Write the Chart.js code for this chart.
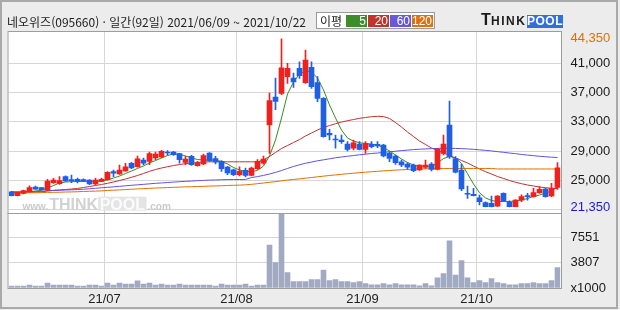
<!DOCTYPE html>
<html lang="ko">
<head>
<meta charset="utf-8">
<script src="https://cdn.jsdelivr.net/npm/chart.js@4.4.0/dist/chart.umd.min.js"></script>
<style>
  html, body { margin:0; padding:0; background:#ececec; }
  #wrap { position:relative; width:620px; height:310px; overflow:hidden; background:#ececec; font-family:'Noto Sans CJK KR','Noto Sans',sans-serif; }
  #frame { position:absolute; left:0; top:0; width:614px; height:305px; border:2px solid #a9a9a9; pointer-events:none; }
  #c { position:absolute; left:0; top:0; }
  .title { position:absolute; left:7px; top:14px; font-size:12px; line-height:15px; color:#222; white-space:nowrap; }
  .legend { position:absolute; left:316px; top:12px; width:117px; height:15px; border:1px solid #9a9a9a; background:#fff; }
  .legend .lbl { position:absolute; left:3px; top:0; font-size:12px; line-height:15px; color:#222; }
  .legend .ma { position:absolute; top:2px; width:21px; height:12px; color:#fff; font:12px/12px 'Liberation Sans',Arial,sans-serif; text-align:right; box-sizing:border-box; padding-right:1px; }
  .logo { position:absolute; top:13px; font-family:'Liberation Sans',Arial,sans-serif; font-weight:bold; color:#1c1c1c; white-space:nowrap; }
</style>
</head>
<body>
<div id="wrap">
  <canvas id="c" width="620" height="310"></canvas>
  <div class="title">네오위즈(095660) · 일간(92일) 2021/06/09 ~ 2021/10/22</div>
  <div class="legend">
    <span class="lbl">이평</span>
    <span class="ma" style="left:29px;background:#3e8c2a">5</span>
    <span class="ma" style="left:51px;background:#c0342a">20</span>
    <span class="ma" style="left:73px;background:#6658da">60</span>
    <span class="ma" style="left:95px;width:21px;background:#e0700f">120</span>
  </div>
  <div class="logo" style="left:481px;top:11px;font-size:16px;line-height:18px">T</div>
  <div class="logo" style="left:491px;top:14px;font-size:12px;line-height:15px;letter-spacing:1.5px">HINK</div>
  <div class="logo" style="left:527px;top:15px;width:36px;height:13px;background:#2f6fde;color:#fff;font-size:12px;line-height:13px;text-align:center;letter-spacing:0.5px">POOL</div>
  <div id="frame"></div>
</div>
<script>
// ---- data ----
const dates = [
  '21/06/09','21/06/10','21/06/11','21/06/14','21/06/15','21/06/16','21/06/17','21/06/18','21/06/21','21/06/22',
  '21/06/23','21/06/24','21/06/25','21/06/28','21/06/29','21/06/30',
  '21/07/01','21/07/02','21/07/05','21/07/06','21/07/07','21/07/08','21/07/09','21/07/12','21/07/13','21/07/14',
  '21/07/15','21/07/16','21/07/19','21/07/20','21/07/21','21/07/22','21/07/23','21/07/26','21/07/27','21/07/28',
  '21/07/29','21/07/30',
  '21/08/02','21/08/03','21/08/04','21/08/05','21/08/06','21/08/09','21/08/10','21/08/11','21/08/12','21/08/13',
  '21/08/17','21/08/18','21/08/19','21/08/20','21/08/23','21/08/24','21/08/25','21/08/26','21/08/27','21/08/30',
  '21/08/31',
  '21/09/01','21/09/02','21/09/03','21/09/06','21/09/07','21/09/08','21/09/09','21/09/10','21/09/13','21/09/14',
  '21/09/15','21/09/16','21/09/17','21/09/23','21/09/24','21/09/27','21/09/28','21/09/29','21/09/30',
  '21/10/01','21/10/05','21/10/06','21/10/07','21/10/08','21/10/12','21/10/13','21/10/14','21/10/15','21/10/18',
  '21/10/19','21/10/20','21/10/21','21/10/22'
];

const opens = [
  23440,22890,23220,23440,24080,23990,23670,24670,24550,25500,
  25040,25140,25040,25040,24500,24860,25100,26180,25860,26270,
  27330,26860,27780,27600,28050,28190,28870,28870,28640,27460,
  28280,27000,27230,28730,27960,27600,26820,26450,25770,26370,
  25680,26590,27360,32560,36390,36900,39170,38990,40320,38350,
  40450,38350,36210,31430,30650,30510,29960,29380,29960,29240,
  29920,29920,29830,28690,28320,27540,27230,27090,26410,26780,
  27230,26500,28690,32560,27960,26410,23220,23090,22620,21940,
  21850,21480,23220,22000,21400,22300,22850,22760,23310,23810,
  22850,24040
];
const highs = [
  23500,23400,23650,24260,24200,24050,25150,25270,25500,25600,
  25730,25320,25200,25100,25270,25300,26200,26400,27090,27330,
  27450,28320,28050,28870,28870,29100,29050,28950,28700,28280,
  28400,27600,28600,28800,28280,27700,26900,26550,26860,26680,
  26800,27820,28320,36940,38990,44350,41000,39670,41220,42820,
  41220,39170,36300,31970,31200,31200,30280,30510,30280,30280,
  30280,30280,29920,28910,28460,27780,27410,27230,27100,27770,
  27410,29380,31200,35850,28230,27230,24220,23900,22990,22070,
  22850,22900,23300,22210,22350,23000,23220,23910,24130,23910,
  24590,27410
];
const lows = [
  22850,22850,23150,23400,23750,23650,23600,24590,24450,24850,
  24670,24630,24850,24400,24360,24800,25050,25500,25800,26200,
  26600,26800,27100,27140,27820,28100,28450,28400,27360,27130,
  27050,26950,27150,27600,27230,26230,25770,25650,25590,25450,
  25600,26500,27200,28690,34650,36700,38260,37720,38950,38260,
  37580,35750,30900,30510,29380,30060,29010,29150,29150,28690,
  29420,29460,28190,27540,27190,26860,26500,26180,26350,26640,
  26270,26410,28460,28010,26000,23580,22540,22850,21620,21350,
  21350,21420,22100,21350,21380,22070,22300,22680,23220,22680,
  22760,23770
];
const closes = [
  22890,23360,23580,23990,23800,23710,24900,25040,24950,24900,
  24950,24900,24960,24500,25040,25140,26100,25960,26410,26860,
  26680,27950,27330,28640,28600,28970,28730,28500,27820,27910,
  27130,27360,28370,27680,27500,26590,26000,25770,26230,25680,
  26680,27600,27910,35890,35800,40400,40320,38440,39300,41450,
  37800,36210,30960,31200,30510,30280,29240,30140,29240,30060,
  29600,29690,28320,28010,27410,27090,26780,26310,27090,27090,
  26500,29240,29960,28230,26130,23810,23090,22890,22070,21390,
  21400,22850,22170,21390,22300,22760,22760,23310,23770,22760,
  23910,26720
];
// volume, x1000 shares
const volumes = [
  300,300,300,450,300,300,750,450,450,450,
  450,300,300,450,450,300,750,450,750,600,
  600,1050,600,750,450,600,450,450,600,450,
  450,450,450,450,300,600,450,450,450,600,
  300,450,450,6400,3770,11030,2280,940,940,940,
  1240,1240,2680,1090,1240,940,940,790,940,640,
  490,490,640,490,640,490,490,490,340,640,
  340,1530,2130,7000,1940,4070,1530,790,1090,790,
  1390,790,640,490,490,640,640,790,640,640,
  1090,3020
];
const ma5 = [
  23360,23360,23400,23440,23540,23630,23950,24290,24630,24770,
  24810,24840,24840,24840,24860,24900,25040,25310,25590,25930,
  26270,26620,26960,27370,27710,28050,28390,28600,28560,28330,
  28050,27840,27780,27780,27780,27570,27230,26750,26410,26200,
  26180,26340,26960,28330,30510,33520,36800,38440,39540,39990,
  39810,38990,37350,35300,33520,31880,30780,30370,30140,30030,
  29960,29830,29480,29010,28460,27910,27440,27090,26890,26820,
  26890,27370,27980,28260,28050,27300,25900,24500,23300,22600,
  22240,22100,22100,22100,22170,22310,22510,22790,22990,23260,
  23540,24080
];
const ma20 = [
  23300,23300,23330,23360,23400,23440,23540,23630,23680,23740,
  23810,23880,24020,24150,24290,24430,24590,24770,24970,25180,
  25410,25660,25930,26230,26480,26680,26860,27020,27160,27270,
  27370,27430,27500,27530,27530,27530,27530,27530,27530,27530,
  27530,27530,27780,28260,28800,29350,29760,30170,30580,31060,
  31470,31880,32220,32490,32740,32970,33150,33310,33480,33590,
  33700,33750,33720,33450,32900,32290,31600,30990,30370,29900,
  29420,29080,28730,28390,28050,27710,27370,26960,26550,26180,
  25860,25520,25250,24970,24730,24540,24360,24220,24080,23990,
  23910,23880
];
const ma60 = [
  23430,23430,23440,23440,23470,23500,23580,23610,23640,23680,
  23700,23740,23780,23840,23910,23980,24040,24110,24180,24250,
  24320,24380,24450,24520,24590,24640,24700,24750,24810,24860,
  24900,24950,24990,25030,25050,25080,25100,25110,25110,25120,
  25380,25510,25670,25860,26080,26340,26620,26890,27120,27330,
  27500,27670,27800,27940,28080,28190,28290,28390,28490,28570,
  28670,28730,28820,28900,28980,29060,29130,29200,29250,29290,
  29330,29360,29380,29380,29360,29330,29290,29240,29170,29100,
  29020,28920,28830,28730,28640,28540,28450,28370,28290,28220,
  28160,28120
];
const ma120 = [
  23290,23290,23290,23300,23300,23320,23350,23360,23370,23400,
  23410,23440,23470,23500,23520,23560,23610,23650,23690,23730,
  23780,23820,23860,23910,23950,23970,24010,24040,24070,24100,
  24120,24150,24180,24210,24230,24260,24290,24320,24340,24380,
  24450,24540,24630,24730,24820,24930,25030,25120,25200,25290,
  25380,25480,25570,25660,25740,25820,25900,25970,26040,26110,
  26180,26230,26290,26340,26400,26440,26480,26520,26550,26570,
  26590,26600,26620,26620,26620,26620,26620,26620,26620,26620,
  26620,26550,26550,26550,26550,26550,26550,26550,26550,26550,
  26550,26550
];

// axis ticks
const priceGridValues = [21000, 25000, 29000, 33000, 37000, 41000];
const priceLabelValues = [25000, 29000, 33000, 37000, 41000];
const priceMax = 44350, priceMin = 21350;
const volumeTicks = [0, 3807, 7551];

// ---- colours ----
const UP = '#f0201c', DOWN = '#1f5fe3';
const candleColors = closes.map((c, i) => c >= opens[i] ? UP : DOWN);
const monthStarts = dates.map((d, i) => i > 0 && d.slice(3, 5) !== dates[i - 1].slice(3, 5)).map((b, i) => b ? i : -1).filter(i => i >= 0);
const fmt = v => v.toLocaleString('en-US');
const tickFont = { family: "'Liberation Sans Narrow','Liberation Sans',Arial,sans-serif", size: 13 };

const framePlugin = {
  id: 'frame',
  beforeDraw(chart) {
    const { ctx, chartArea: a } = chart;
    ctx.save();
    ctx.fillStyle = '#fff';
    ctx.fillRect(a.left - 1, a.top, a.right - a.left + 2.5, a.bottom - a.top);
    ctx.restore();
  },
  beforeDatasetsDraw(chart) {
    // faint site watermark in the bottom-left of the price panel
    const { ctx, chartArea: a } = chart;
    const base = chart.scales.y.bottom - 3;
    let x = a.left + 14;
    ctx.save();
    ctx.textBaseline = 'alphabetic';
    ctx.font = "bold 10px 'Liberation Sans',Arial,sans-serif";
    ctx.fillStyle = '#cacaca';
    ctx.fillText('www.', x, base); x += ctx.measureText('www.').width + 1;
    ctx.font = "bold 16px 'Liberation Sans',Arial,sans-serif";
    ctx.fillStyle = '#d2d2d2';
    ctx.fillText('THINK', x, base); x += ctx.measureText('THINK').width;
    const pw = ctx.measureText('POOL').width + 3;
    ctx.fillStyle = '#e4e4e4';
    ctx.fillRect(x, base - 13, pw, 14);
    ctx.fillStyle = '#fbfbfb';
    ctx.fillText('POOL', x + 1.5, base); x += pw + 1;
    ctx.font = "bold 10px 'Liberation Sans',Arial,sans-serif";
    ctx.fillStyle = '#cacaca';
    ctx.fillText('.com', x, base);
    ctx.restore();
  },
  afterDraw(chart) {
    const { ctx, chartArea: a } = chart;
    ctx.save();
    ctx.strokeStyle = '#9d9d9d';
    ctx.lineWidth = 1;
    ctx.strokeRect(a.left - 0.5, a.top + 0.5, a.right - a.left + 1.5, a.bottom - a.top);
    ctx.beginPath();
    ctx.moveTo(a.left - 1, Math.round(chart.scales.y.bottom) + 0.5);
    ctx.lineTo(a.right + 1.5, Math.round(chart.scales.y.bottom) + 0.5);
    ctx.stroke();
    ctx.restore();
  }
};

const line = (data, color) => ({
  type: 'line', data, borderColor: color, borderWidth: 1, pointRadius: 0,
  tension: 0, yAxisID: 'y', order: 5
});

new Chart(document.getElementById('c'), {
  type: 'bar',
  data: {
    labels: dates,
    datasets: [
      line(ma120, '#e07000'),
      line(ma60, '#6150e0'),
      line(ma20, '#c33030'),
      line(ma5, '#3a8a26'),
      { label: 'vol', data: volumes, backgroundColor: '#a1aac2', barThickness: 5, grouped: false, yAxisID: 'vol', order: 4 },
      { label: 'wick', data: dates.map((d, i) => [lows[i], highs[i]]), backgroundColor: candleColors, barThickness: 1, grouped: false, yAxisID: 'y', order: 2 },
      { label: 'body', data: dates.map((d, i) => [opens[i], closes[i]]), backgroundColor: candleColors, barThickness: 5, minBarLength: 1, grouped: false, yAxisID: 'y', order: 1 }
    ]
  },
  options: {
    responsive: false, animation: false, devicePixelRatio: 1,
    layout: { padding: { left: 8.5, top: 31, right: 0, bottom: 0 } },
    plugins: { legend: { display: false }, tooltip: { enabled: false } },
    scales: {
      x: {
        offset: true,
        border: { display: false },
        grid: { offset: true, drawTicks: false, color: c => monthStarts.includes(c.index) ? '#d6d6d6' : 'rgba(0,0,0,0)' },
        ticks: {
          autoSkip: false, maxRotation: 0, padding: 4, labelOffset: -3,
          color: '#222', font: tickFont,
          callback: (v, i) => monthStarts.includes(i) ? dates[i].slice(0, 5) : ''
        },
        afterFit: s => { s.height = 22; }
      },
      y: {
        position: 'right', stack: 'panes', stackWeight: 181.7,
        min: 20570, max: 45420,
        border: { display: false },
        grid: { drawTicks: false, color: c => c.tick && priceGridValues.includes(c.tick.value) ? '#d6d6d6' : 'rgba(0,0,0,0)' },
        afterBuildTicks: s => { s.ticks = [...priceGridValues, priceMin, priceMax].sort((a, b) => a - b).map(v => ({ value: v })); },
        ticks: {
          autoSkip: false, padding: 10, font: tickFont,
          color: c => c.tick.value === priceMax ? '#e07000' : c.tick.value === priceMin ? '#1a1ad0' : '#1a1a1a',
          callback: v => (priceLabelValues.includes(v) || v === priceMax || v === priceMin) ? fmt(v) : ''
        },
        afterFit: s => { s.width = 59.5; }
      },
      vol: {
        position: 'right', stack: 'panes', stackWeight: 75.3,
        min: 0, max: 11200,
        border: { display: false },
        grid: { drawTicks: false, color: c => c.tick && c.tick.value > 0 ? '#d6d6d6' : 'rgba(0,0,0,0)' },
        afterBuildTicks: s => { s.ticks = volumeTicks.map(v => ({ value: v })); },
        ticks: {
          autoSkip: false, padding: 10, font: tickFont, color: '#1a1a1a',
          callback: v => v === 0 ? 'x1000' : String(v)
        },
        afterFit: s => { s.width = 59.5; }
      }
    }
  },
  plugins: [framePlugin]
});
</script>
</body>
</html>
